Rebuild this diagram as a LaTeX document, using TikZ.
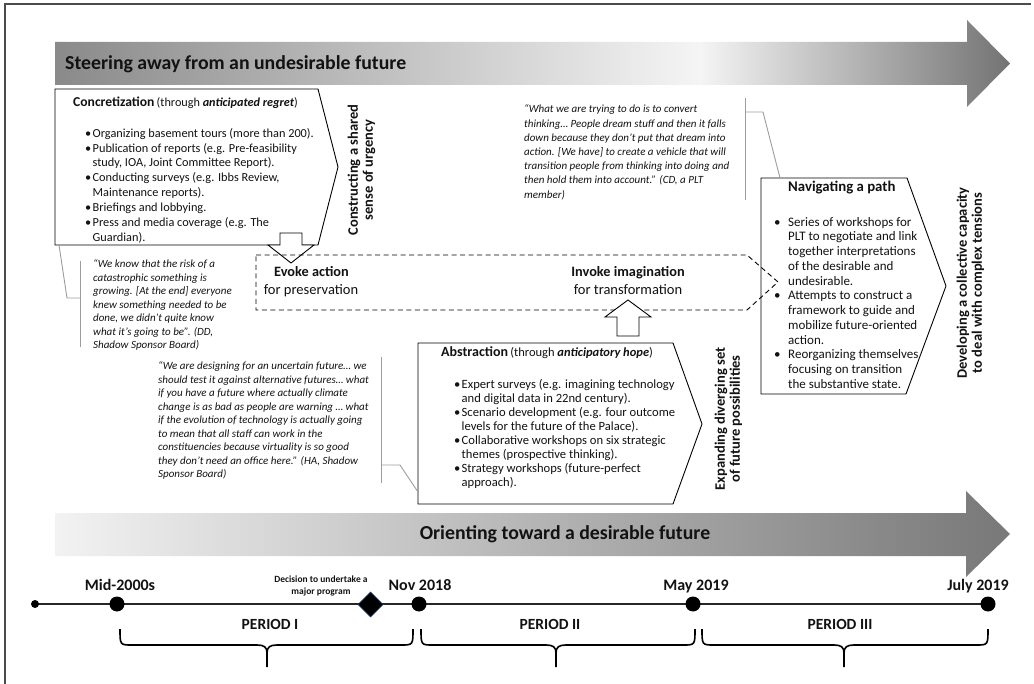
\documentclass[tikz,border=0pt]{standalone}
\usepackage{fontspec}
\setmainfont{Carlito}
\definecolor{txt}{HTML}{121212}
\definecolor{qline}{HTML}{9C9C9C}
\definecolor{navy}{HTML}{1F3864}
\newcommand\bul{\makebox[7.5pt][l]{\textbullet}}
\newcommand\ind{\hspace*{7.5pt}}
\newcommand\nbul{\makebox[14pt][l]{\textbullet}}
\newcommand\nind{\hspace*{14pt}}
\begin{document}
\begin{tikzpicture}[x=1pt,y=-1pt,
  boxline/.style={draw=black, line width=0.9pt, fill=white},
  qbar/.style={draw=qline, line width=0.9pt},
  quotetext/.style={font=\fontsize{11}{13.5}\selectfont\itshape, text=txt, align=left, anchor=north west, inner sep=0pt},
  bullets/.style={font=\fontsize{12.3}{14.9}\selectfont, text=txt, align=left, anchor=north west, inner sep=0pt},
  vlabel/.style={font=\fontsize{14.5}{15}\selectfont\bfseries, text=txt, align=center, rotate=90, inner sep=0pt},
  datelabel/.style={font=\fontsize{16}{18}\selectfont\bfseries, text=txt, anchor=base, inner sep=0pt},
  periodlabel/.style={font=\fontsize{15.5}{17}\selectfont\bfseries, text=txt, anchor=base, inner sep=0pt},
  bigtitle/.style={font=\fontsize{19.8}{22}\selectfont\bfseries, text=txt, inner sep=0pt},
  midbold/.style={font=\fontsize{14.3}{16}\selectfont\bfseries, text=txt, anchor=base, inner sep=0pt},
  midreg/.style={font=\fontsize{14.5}{16}\selectfont, text=txt, anchor=base, inner sep=0pt},
  bigdot/.style={circle, fill=black, inner sep=0pt, minimum size=15pt},
  brace/.style={draw=black, line width=1.6pt},
  dashbox/.style={draw=black, line width=0.9pt, dash pattern=on 5pt off 3.5pt}
]
\useasboundingbox (0,0) rectangle (1034,684);
% frame
\draw[gray!60!black, line width=1.2pt] (5,684) -- (5,4) -- (1031,4);

% top arrow
\begin{scope}
  \clip (55,42) -- (967,42) -- (967,20) -- (1010,63.5) -- (967,107) -- (967,85) -- (55,85) -- cycle;
  \shade[left color=black!46, right color=black!4] (55,15) rectangle (700,110);
  \shade[left color=black!4, right color=black!55] (699.5,15) rectangle (1011,110);
\end{scope}
\node[bigtitle, anchor=base west] (steer) at (65,69.6) {Steering away from an undesirable future};

% bottom arrow
\begin{scope}
  \clip (55,513) -- (966,513) -- (966,491) -- (1010,534) -- (966,577) -- (966,556) -- (55,556) -- cycle;
  \shade[left color=black!5, right color=black!53] (55,485) rectangle (1011,580);
\end{scope}
\node[bigtitle, anchor=base] (orient) at (565,539.6) {Orienting toward a desirable future};

% Concretization box
\draw[boxline] (55,89) -- (318,89) -- (338,167) -- (318,245) -- (55,245) -- cycle;
\node[anchor=base west, inner sep=0pt, text=txt] (concT) at (73,106.5) {{\fontsize{13.6}{15}\selectfont\bfseries Concretization} {\fontsize{12.2}{14}\selectfont (through \textbf{\textit{anticipated regret}})}};
\node[bullets] (concB) at (85,126.5) {\strut\bul Organizing basement tours (more than 200).\\
\bul Publication of reports (e.g. Pre-feasibility\\
\ind study, IOA, Joint Committee Report).\\
\bul Conducting surveys (e.g. Ibbs Review,\\
\ind Maintenance reports).\\
\bul Briefings and lobbying.\\
\bul Press and media coverage (e.g. The\\
\ind Guardian).};
% down block arrow
\draw[boxline, line join=miter] (280,233) -- (302,233) -- (302,245) -- (314,245) -- (291,263) -- (268,245) -- (280,245) -- cycle;

\node[vlabel] (urgency) at (361.5,170) {Constructing a shared\\sense of urgency};

% Navigate box
\draw[boxline] (761,178) -- (907,178) -- (946,286) -- (906,394) -- (761,394) -- cycle;
\node[font=\fontsize{14.8}{16}\selectfont\bfseries, text=txt, anchor=base west, inner sep=0pt] (navT) at (788,191.5) {Navigating a path};
\node[bullets, font=\fontsize{13}{14.73}\selectfont] (navB) at (774,215.7) {\strut\nbul Series of workshops for\\
\nind PLT to negotiate and link\\
\nind together interpretations\\
\nind of the desirable and\\
\nind undesirable.\\
\nbul Attempts to construct a\\
\nind framework to guide and\\
\nind mobilize future-oriented\\
\nind action.\\
\nbul Reorganizing themselves\\
\nind focusing on transition\\
\nind the substantive state.};

% dashed shape
\draw[dashbox] (256,255) -- (747,255) -- (778,282) -- (747,310) -- (256,310) -- cycle;
\node[midbold] (evoke) at (311.5,276.3) {Evoke action};
\node[midreg] (pres) at (311,294.4) {for preservation};
\node[midbold] (invoke) at (628,276.3) {Invoke imagination};
\node[midreg] (transf) at (628,294.4) {for transformation};

\node[vlabel] (develop) at (970.5,283) {Developing a collective capacity\\to deal with complex tensions};

% Abstraction box
\draw[boxline] (418,343) -- (673,343) -- (702,424) -- (673,504) -- (418,504) -- cycle;
\draw[boxline, line join=miter] (617,336) -- (617,317) -- (605,317) -- (628,300) -- (651,317) -- (639,317) -- (639,336) -- cycle;
\node[anchor=base west, inner sep=0pt, text=txt] (absT) at (441,356.3) {{\fontsize{14}{15}\selectfont\bfseries Abstraction} {\fontsize{12.5}{14}\selectfont (through \textbf{\textit{anticipatory hope}})}};
\node[bullets, font=\fontsize{12.6}{14}\selectfont] (absB) at (454,378.2) {\strut\bul Expert surveys (e.g. imagining technology\\
\ind and digital data in 22nd century).\\
\bul Scenario development (e.g. four outcome\\
\ind levels for the future of the Palace).\\
\bul Collaborative workshops on six strategic\\
\ind themes (prospective thinking).\\
\bul Strategy workshops (future-perfect\\
\ind approach).};

\node[vlabel] (expand) at (728.5,419) {Expanding diverging set\\of future possibilities};

% quotes
\node[quotetext, font=\fontsize{11}{14.2}\selectfont\itshape] (q1) at (524,102.7) {\strut “What we are trying to do is to convert\\
thinking… People dream stuff and then it falls\\
down because they don’t put that dream into\\
action. [We have] to create a vehicle that will\\
transition people from thinking into doing and\\
then hold them into account.” (CD, a PLT\\
member)};
\draw[qbar] (745,98) -- (745,200);
\draw[qbar] (745,112) -- (763,112) -- (780,178);

\node[quotetext] (q2) at (93,258.1) {\strut “We know that the risk of a\\
catastrophic something is\\
growing. [At the end] everyone\\
knew something needed to be\\
done, we didn’t quite know\\
what it’s going to be”. (DD,\\
Shadow Sponsor Board)};
\draw[qbar] (80,261) -- (80,347);
\draw[qbar] (80,298) -- (67,298) -- (59,245);

\node[quotetext] (q3) at (158,360.1) {\strut “We are designing for an uncertain future… we\\
should test it against alternative futures… what\\
if you have a future where actually climate\\
change is as bad as people are warning … what\\
if the evolution of technology is actually going\\
to mean that all staff can work in the\\
constituencies because virtuality is so good\\
they don’t need an office here.” (HA, Shadow\\
Sponsor Board)};
\draw[qbar] (381,357) -- (381,483);
\draw[qbar] (381,465) -- (400,465) -- (418,492);

% timeline
\draw[black!85, line width=1.3pt] (35,604) -- (988,604);
\node[circle, fill=black, inner sep=0pt, minimum size=8pt] (t0) at (35,604) {};
\node[bigdot] (t1) at (117,604) {};
\node[bigdot] (t2) at (419,604) {};
\node[bigdot] (t3) at (693,604) {};
\node[bigdot] (t4) at (988,604) {};
\draw[fill=black, draw=navy, line width=0.6pt] (370.5,592) -- (383,604.5) -- (370.5,617) -- (358,604.5) -- cycle;

\node[datelabel] (l1) at (120,590) {Mid-2000s};
\node[datelabel] (l2) at (420,590) {Nov 2018};
\node[datelabel] (l3) at (696,590) {May 2019};
\node[datelabel] (l4) at (978,590) {July 2019};
\node[font=\fontsize{9.5}{12}\selectfont\bfseries, text=txt, align=center, anchor=north, inner sep=0pt] (dec) at (321,573.6) {\strut Decision to undertake a\\major program};

\node[periodlabel] (p1) at (270,629) {PERIOD I};
\node[periodlabel] (p2) at (550,629) {PERIOD II};
\node[periodlabel] (p3) at (840,629) {PERIOD III};

\newcommand\mybrace[3]{%
  \draw[brace] (#1,629) .. controls (#1,645) and (#1,645) .. ({#1+12},645) -- ({#2-10},645) .. controls ({#2-3},645) and (#2,647) .. (#2,653) -- (#2,667);
  \draw[brace] (#2,653) .. controls (#2,647) and ({#2+3},645) .. ({#2+10},645) -- ({#3-12},645) .. controls (#3,645) and (#3,645) .. (#3,629);}
\mybrace{120}{267}{413}
\mybrace{421}{556}{695}
\mybrace{702}{844}{988}
\end{tikzpicture}
\end{document}
